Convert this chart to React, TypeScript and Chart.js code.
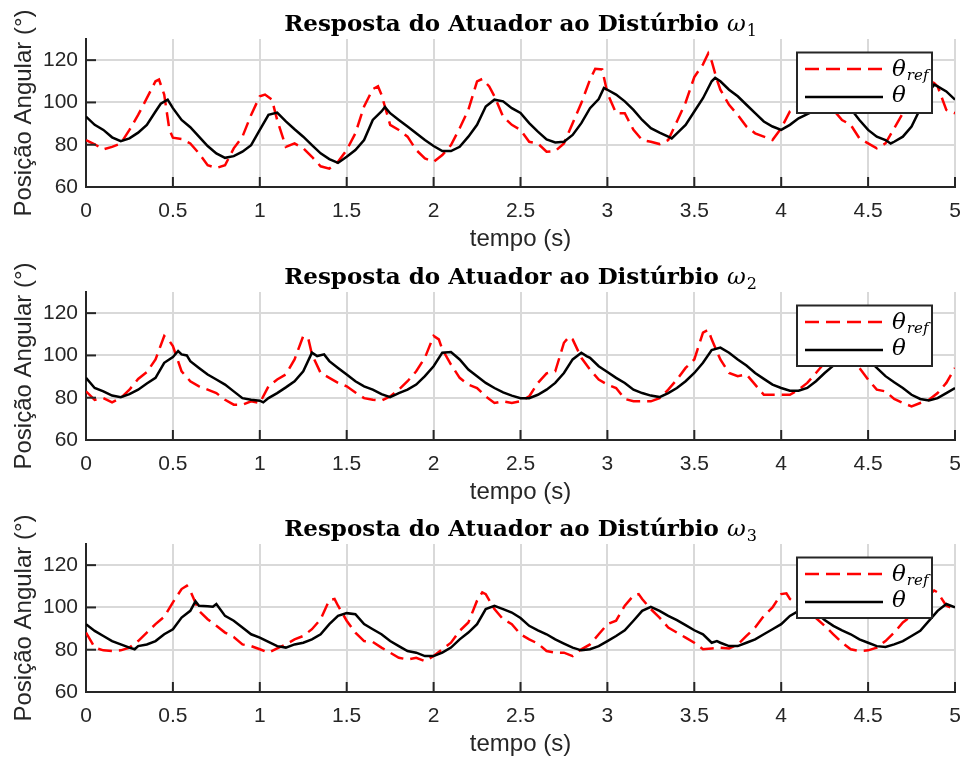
import React, { useEffect, useRef } from "react";
import { Chart, registerables } from "chart.js";

Chart.register(...registerables);

type Pt = [number, number];

// ---------------- data ----------------
const X_TICKS = [0, 0.5, 1, 1.5, 2, 2.5, 3, 3.5, 4, 4.5, 5];
const Y_TICKS = [60, 80, 100, 120];
const TITLE_TEXT = "Resposta do Atuador ao Distúrbio ";
const TITLE_SUBS = ["1", "2", "3"];
const X_LABEL = "tempo (s)";
const Y_LABEL = "Posição Angular (°)";

const thetaRef1: Pt[] = [
  [0, 82.2], [0.05, 80.2], [0.1, 77.8], [0.15, 79], [0.2, 80.6], [0.25, 87], [0.3, 94.1], [0.35, 102],
  [0.4, 110], [0.42, 110.8], [0.45, 103.7], [0.48, 87], [0.5, 83.3], [0.55, 82.7], [0.6, 80.6], [0.65, 75.9],
  [0.7, 70.3], [0.75, 69], [0.8, 70.3], [0.85, 78.3], [0.9, 83.8], [0.95, 94.1], [1.0, 102.9], [1.03, 103.7],
  [1.07, 101.3], [1.1, 91.7], [1.15, 79], [1.2, 80.6], [1.25, 78.3], [1.3, 74.3], [1.35, 69.8], [1.4, 68.7],
  [1.45, 71.9], [1.5, 77.5], [1.55, 85.4], [1.6, 98.1], [1.65, 106.3], [1.68, 107.6], [1.7, 103.7], [1.75, 89.4],
  [1.8, 87], [1.85, 83.8], [1.9, 77.5], [1.95, 73.5], [2.0, 71.9], [2.05, 75.1], [2.1, 79.8], [2.15, 87.8],
  [2.2, 96.5], [2.25, 110], [2.28, 111.1], [2.32, 107.6], [2.35, 102.9], [2.4, 93.3], [2.45, 89.4], [2.5, 87],
  [2.55, 81.4], [2.6, 80.6], [2.65, 76.7], [2.7, 77], [2.75, 80.6], [2.8, 90.2], [2.85, 99.7], [2.9, 110.8],
  [2.93, 115.9], [2.97, 115.6], [3.0, 104.4], [3.05, 94.9], [3.1, 94.9], [3.15, 87], [3.2, 82.2], [3.25, 81.4],
  [3.3, 80.3], [3.35, 82.2], [3.4, 91], [3.45, 100], [3.5, 112], [3.55, 118], [3.58, 123.2], [3.6, 119.5],
  [3.63, 110.8], [3.65, 106], [3.7, 98.9], [3.75, 94.1], [3.8, 88.6], [3.85, 85.4], [3.9, 83.8], [3.95, 82.2],
  [4.0, 87.8], [4.05, 95.7], [4.1, 98.1], [4.15, 99], [4.2, 98.5], [4.25, 97.5], [4.3, 96.5], [4.35, 91.7],
  [4.4, 89.4], [4.45, 83], [4.5, 80.6], [4.55, 78.3], [4.6, 80.6], [4.65, 87.8], [4.7, 94.9], [4.75, 98.9],
  [4.8, 106], [4.83, 111], [4.88, 109.2], [4.9, 107.6], [4.95, 96.5], [5.0, 94.9],
];

const theta1: Pt[] = [
  [0, 93.3], [0.05, 89.4], [0.1, 87], [0.15, 83.5], [0.2, 81.7], [0.25, 83], [0.3, 85.7], [0.35, 89.4],
  [0.4, 95.7], [0.43, 99.4], [0.47, 101.3], [0.5, 97.3], [0.55, 91.7], [0.6, 88.3], [0.65, 83.8], [0.7, 79.4],
  [0.75, 75.9], [0.8, 73.8], [0.85, 74.6], [0.9, 76.7], [0.95, 79.8], [1.0, 87], [1.05, 94.1], [1.1, 95.2],
  [1.15, 91], [1.2, 87.3], [1.25, 83.8], [1.3, 79.8], [1.35, 75.9], [1.4, 73.2], [1.45, 71.4], [1.5, 74.3],
  [1.55, 77.5], [1.6, 82.2], [1.65, 91.7], [1.7, 95.7], [1.72, 97.8], [1.75, 94.9], [1.8, 91.7], [1.85, 88.6],
  [1.9, 85.4], [1.95, 82.2], [2.0, 79.4], [2.05, 77], [2.1, 77], [2.15, 79], [2.2, 83.8], [2.25, 89.4],
  [2.3, 98.1], [2.35, 101.3], [2.4, 100.5], [2.45, 97.3], [2.5, 95], [2.55, 90.2], [2.6, 86.2], [2.65, 82.5],
  [2.7, 81.1], [2.75, 81.4], [2.8, 84.6], [2.85, 90.2], [2.9, 97.3], [2.95, 101.6], [2.98, 106.8], [3.0, 106],
  [3.05, 103.7], [3.1, 100.5], [3.15, 96.5], [3.2, 91.7], [3.25, 87.8], [3.3, 85.7], [3.35, 83.8], [3.37, 83],
  [3.4, 85.4], [3.45, 89.4], [3.5, 95.7], [3.55, 102], [3.6, 110], [3.62, 111.6], [3.65, 110], [3.7, 106],
  [3.75, 102.9], [3.8, 98.9], [3.85, 94.9], [3.9, 91], [3.95, 88.6], [4.0, 87], [4.05, 89.4], [4.1, 92.5],
  [4.15, 94.5], [4.2, 96.5], [4.25, 98.5], [4.3, 99.5], [4.35, 98.5], [4.4, 96.5], [4.42, 94.9], [4.45, 91.7],
  [4.5, 87], [4.55, 83.8], [4.6, 82.2], [4.63, 80.6], [4.65, 81.4], [4.7, 83.8], [4.75, 88.6], [4.8, 97],
  [4.85, 105], [4.88, 108.4], [4.9, 107.6], [4.95, 105.2], [5.0, 101.3],
];

const thetaRef2: Pt[] = [
  [0, 83], [0.05, 79], [0.1, 79.8], [0.15, 77.8], [0.2, 79.8], [0.25, 83.8], [0.3, 88.9], [0.35, 92.1],
  [0.4, 98.1], [0.45, 109.2], [0.48, 106.8], [0.5, 104.4], [0.55, 92.5], [0.6, 87.8], [0.65, 85.4], [0.7, 83.8],
  [0.75, 82.2], [0.8, 79], [0.85, 76.7], [0.9, 76.7], [0.95, 78.3], [1.0, 77.5], [1.05, 85.4], [1.1, 88.6],
  [1.15, 91], [1.2, 98.1], [1.25, 109.2], [1.28, 107.6], [1.3, 100.5], [1.35, 91.7], [1.4, 89.4], [1.45, 87],
  [1.5, 85.4], [1.55, 82.5], [1.6, 79.8], [1.65, 79], [1.7, 78.6], [1.75, 80.6], [1.8, 83.8], [1.85, 87.8],
  [1.9, 92.5], [1.95, 98.9], [2.0, 109.2], [2.03, 107.6], [2.05, 102.9], [2.1, 95.7], [2.15, 89.4], [2.2, 86.2],
  [2.25, 84.6], [2.3, 80.6], [2.35, 77.5], [2.4, 78.3], [2.45, 77.5], [2.5, 78.3], [2.55, 80.6], [2.6, 87],
  [2.65, 91.5], [2.7, 92.5], [2.75, 106], [2.78, 108.9], [2.8, 107.6], [2.85, 98.9], [2.9, 93.3], [2.95, 88.6],
  [3.0, 86.2], [3.05, 84.6], [3.1, 79.4], [3.15, 78.3], [3.2, 78.3], [3.25, 78.3], [3.3, 79.8], [3.35, 83.8],
  [3.4, 88.6], [3.45, 94.1], [3.5, 98.1], [3.55, 110.8], [3.58, 112.1], [3.6, 107.6], [3.65, 98.1], [3.7, 91.7],
  [3.75, 90.2], [3.8, 91], [3.85, 86.2], [3.9, 81.4], [3.95, 81.4], [4.0, 81.4], [4.05, 81.4], [4.1, 83.8],
  [4.15, 87], [4.2, 91.7], [4.25, 96.5], [4.3, 102], [4.35, 108], [4.38, 109], [4.42, 104], [4.45, 94.1],
  [4.5, 88.6], [4.55, 83.8], [4.6, 83], [4.65, 79.4], [4.7, 77.5], [4.75, 75.9], [4.8, 77.5], [4.85, 79],
  [4.9, 82.2], [4.95, 87], [5.0, 94.1],
];

const theta2: Pt[] = [
  [0, 89.4], [0.05, 84.6], [0.1, 83], [0.15, 81], [0.2, 80.2], [0.25, 81.7], [0.3, 83.8], [0.35, 86.7],
  [0.4, 89.4], [0.45, 96.5], [0.5, 99.2], [0.53, 102.1], [0.55, 100.5], [0.58, 100], [0.6, 97.3], [0.65, 94.1],
  [0.7, 91], [0.75, 88.6], [0.8, 86.2], [0.85, 83], [0.9, 79.8], [0.95, 79], [1.0, 78.6], [1.02, 77.8],
  [1.05, 79.8], [1.1, 82.2], [1.15, 84.9], [1.2, 87.8], [1.25, 92.5], [1.3, 101.3], [1.33, 99.7], [1.37, 100.5],
  [1.4, 97.3], [1.45, 94.1], [1.5, 91], [1.55, 87.8], [1.6, 85.4], [1.65, 83.8], [1.7, 81.7], [1.75, 80.3],
  [1.8, 82.2], [1.85, 83.8], [1.9, 86.2], [1.95, 90.2], [2.0, 94.9], [2.05, 101.3], [2.1, 101.6], [2.15, 98.1],
  [2.2, 93.3], [2.25, 90.2], [2.3, 87], [2.35, 84.6], [2.4, 82.5], [2.45, 81], [2.5, 79.8], [2.55, 79.8],
  [2.6, 81.4], [2.65, 83.8], [2.7, 87], [2.75, 91.7], [2.8, 98.1], [2.85, 101.3], [2.88, 99.7], [2.9, 98.9],
  [2.95, 94.9], [3.0, 92.2], [3.05, 89.4], [3.1, 87], [3.15, 83.8], [3.2, 82.2], [3.25, 81], [3.3, 80.3],
  [3.35, 82.2], [3.4, 84.6], [3.45, 87.8], [3.5, 91.7], [3.55, 96.5], [3.6, 102.5], [3.65, 103.7], [3.7, 101.3],
  [3.75, 98.1], [3.8, 95.2], [3.85, 91.7], [3.9, 88.9], [3.95, 86.2], [4.0, 84.6], [4.05, 83.3], [4.1, 83.3],
  [4.15, 84.6], [4.2, 87.8], [4.25, 91.7], [4.3, 95.2], [4.35, 99], [4.4, 102], [4.45, 102.5], [4.5, 98],
  [4.55, 94.1], [4.6, 90.2], [4.65, 87.3], [4.7, 84.6], [4.75, 81.4], [4.8, 79.4], [4.85, 78.7], [4.9, 79.8],
  [4.95, 82.2], [5.0, 84.6],
];

const thetaRef3: Pt[] = [
  [0, 88.1], [0.05, 81], [0.1, 79.7], [0.15, 79.4], [0.2, 79.7], [0.25, 81], [0.3, 84.1], [0.35, 88.1],
  [0.4, 92.1], [0.45, 95.6], [0.5, 102.4], [0.55, 108.7], [0.58, 110.3], [0.6, 107.9], [0.65, 98.4], [0.7, 94.4],
  [0.75, 91.3], [0.8, 88.1], [0.85, 86], [0.9, 82.5], [0.95, 81.7], [1.0, 80.2], [1.05, 78.6], [1.1, 80.6],
  [1.15, 82.5], [1.2, 84.9], [1.25, 86.5], [1.3, 89.7], [1.35, 94.4], [1.4, 103.5], [1.43, 104], [1.45, 100.8],
  [1.5, 93.7], [1.55, 88.1], [1.6, 84.1], [1.65, 83.7], [1.7, 81], [1.75, 78.6], [1.8, 76.2], [1.85, 75.4],
  [1.9, 76.2], [1.95, 74.6], [2.0, 77], [2.05, 80.2], [2.1, 83.3], [2.15, 88.9], [2.2, 92.9], [2.25, 103.2],
  [2.28, 107.1], [2.3, 106.3], [2.35, 99.2], [2.4, 94.4], [2.45, 92.1], [2.5, 87.3], [2.55, 84.9], [2.6, 82.9],
  [2.65, 79.4], [2.7, 78.6], [2.75, 78.6], [2.8, 77], [2.85, 80.2], [2.9, 82.5], [2.95, 87.3], [3.0, 92.1],
  [3.05, 93.7], [3.1, 100.8], [3.15, 105.6], [3.18, 106.3], [3.2, 104], [3.25, 99.2], [3.3, 95.2], [3.35, 90.5],
  [3.4, 88.1], [3.45, 85.7], [3.5, 83.3], [3.55, 80.2], [3.6, 80.6], [3.65, 81], [3.7, 80.6], [3.75, 82.5],
  [3.8, 86.5], [3.85, 90.5], [3.9, 96], [3.95, 100], [4.0, 106.3], [4.03, 106.7], [4.05, 104], [4.1, 101],
  [4.15, 98], [4.2, 95], [4.25, 91.3], [4.3, 87.3], [4.35, 83.3], [4.4, 80.2], [4.45, 79.4], [4.5, 79.7],
  [4.55, 81], [4.6, 84.1], [4.65, 88.1], [4.7, 92.9], [4.75, 96], [4.8, 101], [4.85, 106], [4.88, 108],
  [4.9, 107.1], [4.95, 100.8], [5.0, 99.2],
];

const theta3: Pt[] = [
  [0, 92.1], [0.05, 88.9], [0.1, 86.5], [0.15, 84.1], [0.2, 82.5], [0.25, 81], [0.28, 80.2], [0.3, 81.7],
  [0.35, 82.5], [0.4, 84.1], [0.45, 87.3], [0.5, 89.7], [0.55, 95.2], [0.6, 98.4], [0.63, 102.9], [0.65, 100.8],
  [0.7, 100.5], [0.73, 100.3], [0.75, 101.6], [0.8, 96], [0.85, 93.7], [0.9, 90.5], [0.95, 87.3], [1.0, 85.7],
  [1.05, 83.7], [1.1, 81.7], [1.15, 81], [1.2, 82.5], [1.25, 83.3], [1.3, 84.9], [1.35, 87.3], [1.4, 92.1],
  [1.45, 96], [1.5, 97.3], [1.55, 96.8], [1.6, 92.1], [1.65, 89.7], [1.7, 87.3], [1.75, 84.1], [1.8, 81.7],
  [1.85, 79.4], [1.9, 78.6], [1.95, 77], [2.0, 77], [2.05, 78.6], [2.1, 81], [2.15, 84.9], [2.2, 88.1],
  [2.25, 92.1], [2.3, 99.2], [2.35, 100.8], [2.4, 99.2], [2.45, 97.6], [2.5, 95], [2.55, 91.3], [2.6, 89.2],
  [2.65, 87.3], [2.7, 84.9], [2.75, 82.9], [2.8, 81], [2.85, 79.7], [2.9, 80.2], [2.95, 81.7], [3.0, 84.1],
  [3.05, 86.5], [3.1, 89.2], [3.15, 93.7], [3.2, 98.4], [3.25, 100.3], [3.3, 98.4], [3.35, 96], [3.4, 94],
  [3.45, 91.6], [3.5, 89.2], [3.55, 87.3], [3.6, 83.3], [3.63, 84.1], [3.65, 83.3], [3.7, 81.7], [3.75, 81.7],
  [3.8, 83.3], [3.85, 84.9], [3.9, 87.3], [3.95, 89.7], [4.0, 92.1], [4.05, 96], [4.1, 98.4], [4.15, 99.5],
  [4.2, 97.5], [4.25, 94], [4.3, 91.3], [4.35, 89.2], [4.4, 87.3], [4.45, 84.9], [4.5, 83.3], [4.55, 81.7],
  [4.6, 81.3], [4.65, 82.5], [4.7, 84.1], [4.75, 86.5], [4.8, 88.9], [4.9, 98.4], [4.95, 101.6], [5.0, 100],
];

const REF_SERIES = [thetaRef1, thetaRef2, thetaRef3];
const THETA_SERIES = [theta1, theta2, theta3];

// ---------------- style ----------------
const AXIS = "#262626";
const GRID = "#d9d9d9";
const SANS = "'Liberation Sans', Arial, sans-serif";
const SERIF = "'DejaVu Serif', serif";
const DASH = [14, 7];
const LINE_W = 2.5;
const CANVAS_W = 960;
const CANVAS_H = 252;
const PANEL_TOPS = [0, 253, 505];

function makePlugin(sub: string) {
  return {
    id: "matlabDecor",
    afterDatasetsDraw(chart: any) {
      const { ctx, chartArea: ca, scales } = chart;
      const xs = scales.x;
      const ys = scales.y;
      ctx.save();
      // inward ticks
      ctx.strokeStyle = AXIS;
      ctx.lineWidth = 2;
      ctx.setLineDash([]);
      for (const v of X_TICKS) {
        const px = xs.getPixelForValue(v);
        ctx.beginPath();
        ctx.moveTo(px, ca.bottom);
        ctx.lineTo(px, ca.bottom - 10);
        ctx.stroke();
      }
      for (const v of Y_TICKS) {
        const py = ys.getPixelForValue(v);
        ctx.beginPath();
        ctx.moveTo(ca.left, py);
        ctx.lineTo(ca.left + 10, py);
        ctx.stroke();
      }

      // legend
      const bx0 = ca.right - 158;
      const bx1 = ca.right - 23;
      const by0 = ca.top + 13.5;
      const by1 = ca.top + 74;
      ctx.fillStyle = "#ffffff";
      ctx.fillRect(bx0, by0, bx1 - bx0, by1 - by0);
      ctx.strokeStyle = AXIS;
      ctx.lineWidth = 2;
      ctx.strokeRect(bx0, by0, bx1 - bx0, by1 - by0);

      const lx0 = bx0 + 8;
      const lx1 = bx0 + 86;
      // theta_ref entry
      ctx.strokeStyle = "#ff0000";
      ctx.lineWidth = LINE_W;
      ctx.setLineDash(DASH);
      ctx.beginPath();
      ctx.moveTo(lx0, ca.top + 30);
      ctx.lineTo(lx1, ca.top + 30);
      ctx.stroke();
      ctx.setLineDash([]);
      // theta entry
      ctx.strokeStyle = "#000000";
      ctx.beginPath();
      ctx.moveTo(lx0, ca.top + 58);
      ctx.lineTo(lx1, ca.top + 58);
      ctx.stroke();

      ctx.fillStyle = "#000000";
      ctx.textAlign = "left";
      ctx.textBaseline = "alphabetic";
      const tx = bx0 + 95;
      ctx.font = `italic 23px ${SERIF}`;
      ctx.fillText("θ", tx, ca.top + 37);
      const tw = ctx.measureText("θ").width;
      ctx.font = `italic 15px ${SERIF}`;
      ctx.fillText("ref", tx + tw + 1, ca.top + 41);
      ctx.font = `italic 23px ${SERIF}`;
      ctx.fillText("θ", tx, ca.top + 63);
      ctx.restore();
    },
    afterDraw(chart: any) {
      const { ctx, chartArea: ca } = chart;
      ctx.save();
      const cx = (ca.left + ca.right) / 2;
      // title
      ctx.fillStyle = "#000000";
      ctx.textBaseline = "alphabetic";
      ctx.textAlign = "left";
      ctx.font = `bold 23px ${SERIF}`;
      const w1 = ctx.measureText(TITLE_TEXT).width;
      ctx.font = `italic 23px ${SERIF}`;
      const w2 = ctx.measureText("ω").width;
      ctx.font = `16px ${SERIF}`;
      const w3 = ctx.measureText(sub).width;
      let x = cx - (w1 + w2 + w3 + 1) / 2;
      const by = 31;
      ctx.font = `bold 23px ${SERIF}`;
      ctx.fillText(TITLE_TEXT, x, by);
      x += w1;
      ctx.font = `italic 23px ${SERIF}`;
      ctx.fillText("ω", x, by);
      x += w2 + 1;
      ctx.font = `16px ${SERIF}`;
      ctx.fillText(sub, x, by + 5);

      // x label
      ctx.fillStyle = AXIS;
      ctx.font = `24px ${SANS}`;
      ctx.textAlign = "center";
      ctx.fillText(X_LABEL, cx, 246);

      // y label
      ctx.translate(24, (ca.top + ca.bottom) / 2);
      ctx.rotate(-Math.PI / 2);
      ctx.textBaseline = "middle";
      ctx.fillText(Y_LABEL, 0, 0);
      ctx.restore();
    },
  };
}

function Panel({ refData, thetaData, sub }: { refData: Pt[]; thetaData: Pt[]; sub: string }) {
  const canvasRef = useRef<HTMLCanvasElement>(null);
  useEffect(() => {
    const canvas = canvasRef.current;
    if (!canvas) return;
    const chart = new Chart(canvas, {
      type: "line",
      data: {
        datasets: [
          {
            label: "θ",
            data: thetaData.map(([x, y]) => ({ x, y })),
            borderColor: "#000000",
            borderWidth: LINE_W,
            pointRadius: 0,
            tension: 0,
            fill: false,
            order: 0,
          },
          {
            label: "θref",
            data: refData.map(([x, y]) => ({ x, y })),
            borderColor: "#ff0000",
            borderWidth: LINE_W,
            borderDash: DASH,
            pointRadius: 0,
            tension: 0,
            fill: false,
            order: 1,
          },
        ],
      },
      options: {
        responsive: false,
        animation: false,
        devicePixelRatio: 1,
        layout: { padding: { top: 39, right: 5, left: 0, bottom: 0 } },
        plugins: {
          legend: { display: false },
          title: { display: false },
          tooltip: { enabled: false },
        },
        events: [],
        scales: {
          x: {
            type: "linear",
            min: 0,
            max: 5,
            afterBuildTicks: (s: any) => {
              s.ticks = X_TICKS.map((v) => ({ value: v }));
            },
            afterFit: (s: any) => {
              s.height = 65;
              s.paddingLeft = 0;
              s.paddingRight = 0;
            },
            grid: { color: GRID, lineWidth: 2, drawTicks: false },
            border: { display: true, color: AXIS, width: 2 },
            ticks: {
              color: AXIS,
              font: { family: SANS, size: 21 },
              padding: 12,
              maxRotation: 0,
              autoSkip: false,
              callback: (v: any) => String(v),
            },
          },
          y: {
            type: "linear",
            min: 60,
            max: 130,
            afterBuildTicks: (s: any) => {
              s.ticks = Y_TICKS.map((v) => ({ value: v }));
            },
            afterFit: (s: any) => {
              s.width = 86;
              s.paddingTop = 0;
              s.paddingBottom = 0;
            },
            grid: { color: GRID, lineWidth: 2, drawTicks: false },
            border: { display: true, color: AXIS, width: 2 },
            ticks: {
              color: AXIS,
              font: { family: SANS, size: 21 },
              padding: 8,
              autoSkip: false,
              callback: (v: any) => String(v),
            },
          },
        },
      } as any,
      plugins: [makePlugin(sub)],
    });
    return () => chart.destroy();
  }, [refData, thetaData, sub]);
  return (
    <canvas
      ref={canvasRef}
      width={CANVAS_W}
      height={CANVAS_H}
      style={{ display: "block", width: CANVAS_W, height: CANVAS_H }}
    />
  );
}

export default function App() {
  return (
    <div style={{ position: "absolute", left: 0, top: 0, width: 960, height: 760, background: "#ffffff" }}>
      {TITLE_SUBS.map((sub, i) => (
        <div key={sub} style={{ position: "absolute", left: 0, top: PANEL_TOPS[i], width: CANVAS_W, height: CANVAS_H }}>
          <Panel refData={REF_SERIES[i]} thetaData={THETA_SERIES[i]} sub={sub} />
        </div>
      ))}
    </div>
  );
}
